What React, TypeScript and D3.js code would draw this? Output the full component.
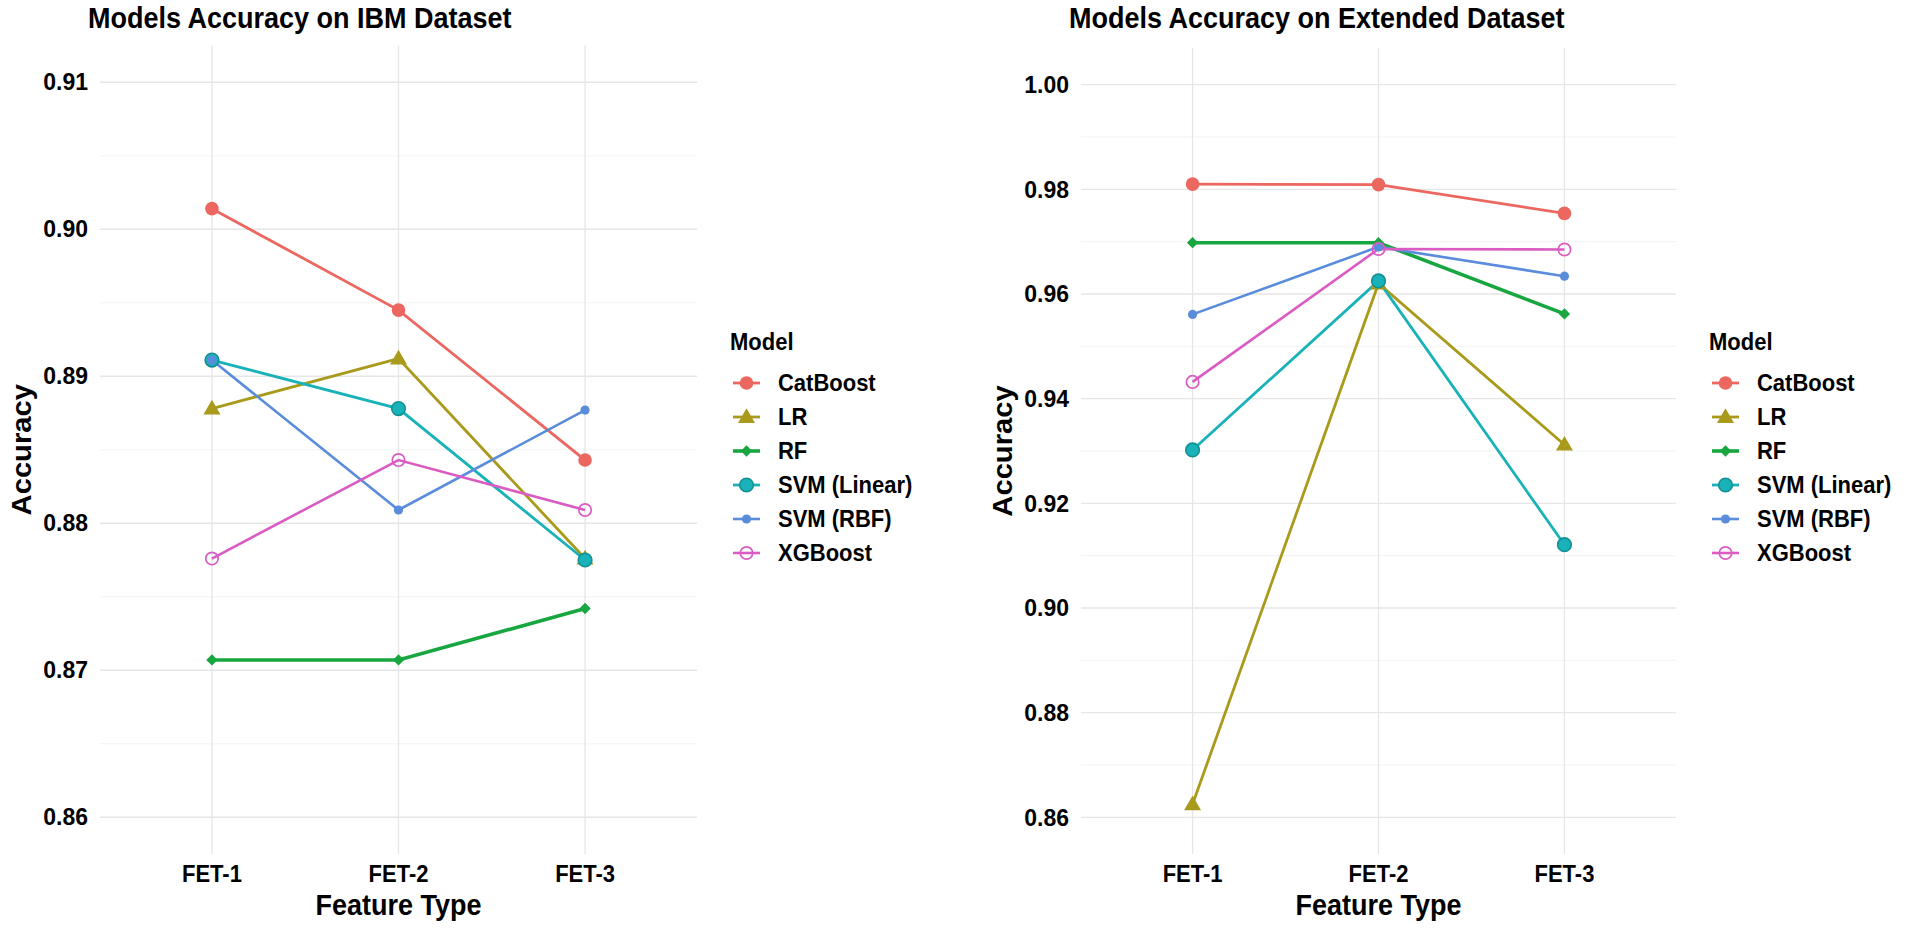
import React, { useEffect, useRef } from 'react';
import * as d3 from 'd3';

// categories / series
const features = ['FET-1', 'FET-2', 'FET-3'];
const models = ['CatBoost', 'LR', 'RF', 'SVM (Linear)', 'SVM (RBF)', 'XGBoost'];

// accuracy per model (same order as models), one value per feature type
const ibmValues = [
  [0.9014, 0.8945, 0.8843], // CatBoost
  [0.8878, 0.8912, 0.8776], // LR
  [0.8707, 0.8707, 0.8742], // RF
  [0.8911, 0.8878, 0.8775], // SVM (Linear)
  [0.8911, 0.8809, 0.8877], // SVM (RBF)
  [0.8776, 0.8843, 0.8809], // XGBoost
];
const extValues = [
  [0.9810, 0.9809, 0.9754],
  [0.8625, 0.9620, 0.9312],
  [0.9698, 0.9698, 0.9562],
  [0.9302, 0.9625, 0.9121],
  [0.9561, 0.9690, 0.9634],
  [0.9432, 0.9686, 0.9685],
];

const ibmTicks = [0.86, 0.87, 0.88, 0.89, 0.9, 0.91];
const ibmMinor = [0.865, 0.875, 0.885, 0.895, 0.905];
const extTicks = [0.86, 0.88, 0.9, 0.92, 0.94, 0.96, 0.98, 1.0];
const extMinor = [0.87, 0.89, 0.91, 0.93, 0.95, 0.97, 0.99];

const colors = ['#EC675F', '#A99A1C', '#17A63F', '#18B2B8', '#5A8CDC', '#DA5CC2'];
const shapes = ['circle', 'triangle', 'diamond', 'ringdot', 'dot', 'open'];
const widths = [2.8, 2.8, 3.6, 2.8, 2.6, 2.6];

const FONT = '"Liberation Sans", Arial, Helvetica, sans-serif';
const SY = 1.08; // picture is slightly stretched vertically

type Sel = d3.Selection<SVGGElement, unknown, null, undefined>;

function addText(g: Sel, str: string, x: number, y: number, size: number, anchor = 'start', rot = false) {
  g.append('text')
    .attr('transform', `translate(${x},${y}) scale(1,${SY})${rot ? ' rotate(-90)' : ''}`)
    .attr('text-anchor', anchor)
    .attr('font-family', FONT)
    .attr('font-weight', 'bold')
    .attr('font-size', size)
    .attr('fill', '#000')
    .text(str);
}

function addMarker(g: Sel, shape: string, color: string, x: number, y: number) {
  if (shape === 'circle') {
    g.append('circle').attr('cx', x).attr('cy', y).attr('r', 6.8).attr('fill', color);
  } else if (shape === 'triangle') {
    g.append('path')
      .attr('d', d3.symbol(d3.symbolTriangle, 125)())
      .attr('transform', `translate(${x},${y + 1})`)
      .attr('fill', color);
  } else if (shape === 'diamond') {
    g.append('path')
      .attr('d', d3.symbol(d3.symbolSquare, 64)())
      .attr('transform', `translate(${x},${y}) rotate(45)`)
      .attr('fill', color);
  } else if (shape === 'ringdot') {
    g.append('circle').attr('cx', x).attr('cy', y).attr('r', 6.8)
      .attr('fill', color).attr('stroke', d3.color(color)!.darker(0.6).toString()).attr('stroke-width', 1.6);
  } else if (shape === 'dot') {
    g.append('circle').attr('cx', x).attr('cy', y).attr('r', 4.6).attr('fill', color);
  } else {
    g.append('circle').attr('cx', x).attr('cy', y).attr('r', 6.2)
      .attr('fill', 'none').attr('stroke', color).attr('stroke-width', 1.7);
  }
}

type PanelOpts = {
  left: number; right: number; top: number; bottom: number;
  domain: [number, number];
  ticks: number[]; minor: number[];
  values: number[][];
  title: string;
};

function drawPanel(svg: Sel, o: PanelOpts) {
  const x = d3.scalePoint<string>().domain(features).range([o.left, o.right]).padding(0.6);
  const y = d3.scaleLinear().domain(o.domain).range([o.bottom, o.top]);
  const g = svg.append('g');

  // grid
  g.selectAll('line.minor').data(o.minor).join('line')
    .attr('x1', o.left).attr('x2', o.right)
    .attr('y1', d => y(d)).attr('y2', d => y(d))
    .attr('stroke', '#F0F0F0').attr('stroke-width', 0.9);
  g.selectAll('line.major').data(o.ticks).join('line')
    .attr('x1', o.left).attr('x2', o.right)
    .attr('y1', d => y(d)).attr('y2', d => y(d))
    .attr('stroke', '#E6E6E6').attr('stroke-width', 1.3);
  g.selectAll('line.vert').data(features).join('line')
    .attr('x1', d => x(d)!).attr('x2', d => x(d)!)
    .attr('y1', o.top).attr('y2', o.bottom)
    .attr('stroke', '#E6E6E6').attr('stroke-width', 1.3);

  // tick labels
  o.ticks.forEach(t => addText(g, t.toFixed(2), o.left - 12, y(t) + 8.2, 23, 'end'));
  features.forEach(f => addText(g, f, x(f)!, 882, 22, 'middle'));

  // axis titles + title
  addText(g, 'Feature Type', (o.left + o.right) / 2, 915, 27, 'middle');
  addText(g, 'Accuracy', o.left - 69, (o.top + o.bottom) / 2, 27, 'middle', true);
  addText(g, o.title, o.left - 12, 28, 27, 'start');

  // lines
  const line = d3.line<number>().x((_, i) => x(features[i])!).y(d => y(d));
  o.values.forEach((vals, m) => {
    g.append('path')
      .attr('d', line(vals))
      .attr('fill', 'none')
      .attr('stroke', colors[m])
      .attr('stroke-width', widths[m]);
  });
  o.values.forEach((vals, m) => {
    vals.forEach((v, i) => addMarker(g, shapes[m], colors[m], x(features[i])!, y(v)));
  });

  // legend
  const lx = o.right + 33;
  addText(g, 'Model', lx, 350, 22, 'start');
  models.forEach((name, m) => {
    const ly = 383 + m * 34;
    g.append('line')
      .attr('x1', lx + 3).attr('x2', lx + 30)
      .attr('y1', ly).attr('y2', ly)
      .attr('stroke', colors[m]).attr('stroke-width', widths[m]);
    addMarker(g, shapes[m], colors[m], lx + 16.5, ly);
    addText(g, name, lx + 48, ly + 8, 22, 'start');
  });
}

const App: React.FC = () => {
  const svgRef = useRef<SVGSVGElement | null>(null);

  useEffect(() => {
    if (!svgRef.current) return;
    document.body.style.margin = '0';
    const root = d3.select(svgRef.current);
    root.selectAll('*').remove();
    const svg = root.append('g') as Sel;

    svg.append('rect').attr('width', 1905).attr('height', 930).attr('fill', '#fff');

    drawPanel(svg, {
      left: 100, right: 697, top: 45.5, bottom: 854,
      domain: [0.8575, 0.9125],
      ticks: ibmTicks, minor: ibmMinor,
      values: ibmValues,
      title: 'Models Accuracy on IBM Dataset',
    });
    drawPanel(svg, {
      left: 1081, right: 1676, top: 48, bottom: 854,
      domain: [0.853, 1.007],
      ticks: extTicks, minor: extMinor,
      values: extValues,
      title: 'Models Accuracy on Extended Dataset',
    });
  }, []);

  return <svg ref={svgRef} width={1905} height={930} style={{ display: 'block' }} />;
};

export default App;
